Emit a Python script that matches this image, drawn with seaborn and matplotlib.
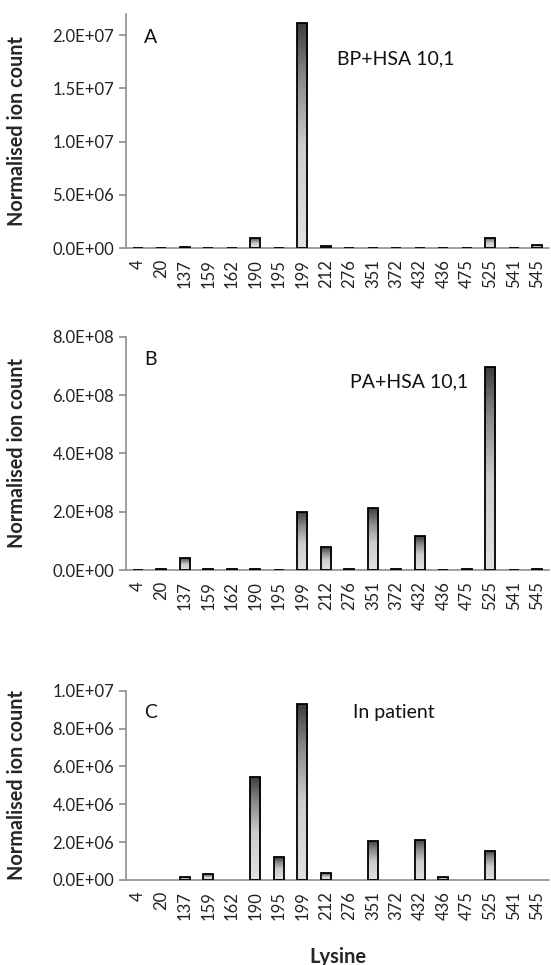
import numpy as np
import pandas as pd
import seaborn as sns
import matplotlib
matplotlib.use('Agg')
import matplotlib.pyplot as plt
from matplotlib.colors import LinearSegmentedColormap
from matplotlib.ticker import FuncFormatter

# Datos
lisinas = ['4', '20', '137', '159', '162', '190', '195', '199', '212',
           '276', '351', '372', '432', '436', '475', '525', '541', '545']

ion_bp_hsa = [1.0e4, 2.0e4, 5.0e4, 3.0e4, 1.0e4, 9.0e5, 3.0e4, 2.12e7, 2.2e5,
              1.0e4, 3.0e4, 1.0e4, 4.0e4, 1.0e4, 1.0e4, 9.7e5, 3.0e4, 2.8e5]

ion_pa_hsa = [1.0e6, 4.6e6, 4.0e7, 3.0e6, 5.0e6, 5.0e6, 1.0e6, 2.0e8, 7.8e7,
              4.0e6, 2.11e8, 2.0e6, 1.15e8, 1.0e6, 3.0e6, 6.95e8, 1.0e6, 3.0e6]

ion_paciente = [0, 0, 1.4e5, 3.0e5, 0, 5.46e6, 1.2e6, 9.28e6, 3.7e5,
                0, 2.07e6, 0, 2.14e6, 1.4e5, 0, 1.54e6, 0, 0]

paneles = [
    ('A', 'BP+HSA 10,1', ion_bp_hsa, 2.2e7, [0, 5e6, 1e7, 1.5e7, 2e7]),
    ('B', 'PA+HSA 10,1', ion_pa_hsa, 8e8, [0, 2e8, 4e8, 6e8, 8e8]),
    ('C', 'In patient', ion_paciente, 1e7, [0, 2e6, 4e6, 6e6, 8e6, 1e7]),
]

# Posiciones de los ejes (fracción de figura)
posiciones = [
    [0.2287, 0.743, 0.768, 0.2425],
    [0.2287, 0.4093, 0.768, 0.2418],
    [0.2287, 0.0881, 0.768, 0.196],
]
letras_y = [0.899, 0.904, 0.884]
texto_y = [0.808, 0.806, 0.884]
texto_x = [0.638, 0.669, 0.634]

sns.set_style('white')
plt.rcParams['font.family'] = ['Lato', 'DejaVu Sans']

gris_eje = '#8e8e8e'
degradado = LinearSegmentedColormap.from_list(
    'barra', [(0.0, '#e2e2e2'), (0.45, '#cdcdcd'), (0.75, '#8a8a8a'), (1.0, '#3c3c3c')])

fig = plt.figure(figsize=(5.51, 9.65), dpi=100)

for i, (letra, texto, valores, ymax, yticks) in enumerate(paneles):
    ax = fig.add_axes(posiciones[i])
    df = pd.DataFrame({'Lisina': lisinas, 'Ion': valores})
    sns.barplot(data=df, x='Lisina', y='Ion', order=lisinas, color='white',
                edgecolor='black', linewidth=1.3, width=0.43, ax=ax, zorder=3)

    # Relleno degradado de cada barra
    grad = np.linspace(0, 1, 256).reshape(-1, 1)
    for barra in ax.patches:
        x0, y0 = barra.get_x(), barra.get_y()
        w, h = barra.get_width(), barra.get_height()
        if h <= 0:
            barra.set_visible(False)
            continue
        img = ax.imshow(grad, extent=[x0, x0 + w, y0, y0 + h], origin='lower',
                        aspect='auto', cmap=degradado, zorder=2)
        img.set_clip_path(barra)
        barra.set_facecolor('none')
    ax.set_xlim(-0.5, len(lisinas) - 0.5)
    ax.set_ylim(0, ymax)

    # Ejes y ticks
    sns.despine(ax=ax)
    for lado in ['left', 'bottom']:
        ax.spines[lado].set_color(gris_eje)
        ax.spines[lado].set_linewidth(1.2)
    ax.set_yticks(yticks)
    ax.yaxis.set_major_formatter(FuncFormatter(lambda v, p: f'{v:.1E}'))
    ax.set_xticks(range(len(lisinas)))
    ax.set_xticklabels(lisinas, rotation=90)
    ax.set_xticks(np.arange(-0.5, len(lisinas), 1), minor=True)
    ax.tick_params(axis='x', which='major', length=0, pad=8, labelsize=12, labelcolor='#222222')
    ax.tick_params(axis='x', which='minor', length=5, width=1.2, color=gris_eje, direction='out')
    ax.tick_params(axis='y', length=5, width=1.2, color=gris_eje, direction='out',
                   labelsize=12, labelcolor='#222222', left=True)

    ax.set_xlabel('')
    ax.set_ylabel('Normalised ion count', fontsize=14.3, fontweight='bold')
    ax.yaxis.set_label_coords(-0.234, 0.5)

    ax.text(0.058, letras_y[i], letra, transform=ax.transAxes, fontsize=14,
            ha='center', va='center', color='#111111')
    ax.text(texto_x[i], texto_y[i], texto, transform=ax.transAxes, fontsize=14,
            ha='center', va='center', color='#111111')

    if i == 2:
        ax.set_xlabel('Lysine', fontsize=14.5, fontweight='bold')
        ax.xaxis.set_label_coords(0.5, -0.354)

fig.savefig('out.png', dpi=100)
